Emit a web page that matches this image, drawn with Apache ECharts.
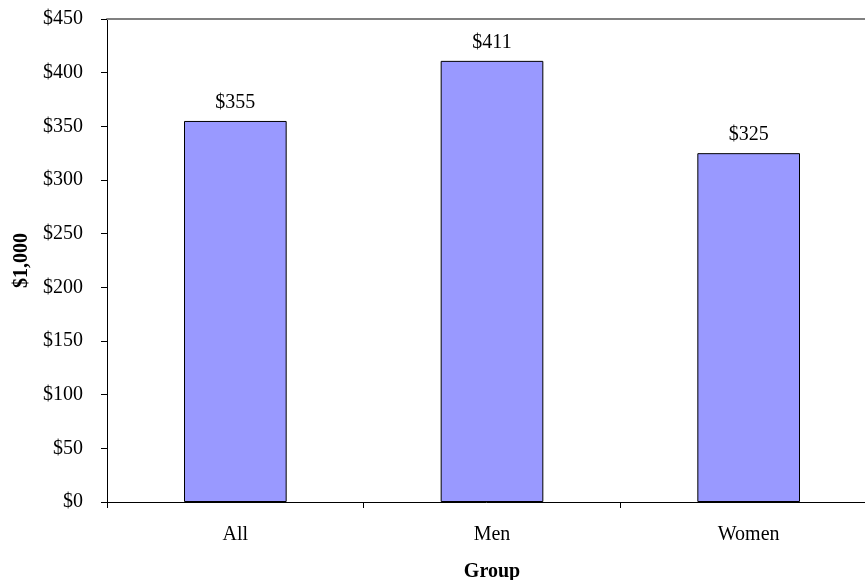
<!DOCTYPE html>
<html>
<head>
<meta charset="utf-8">
<script src="https://cdn.jsdelivr.net/npm/echarts@6/dist/echarts.min.js"></script>
<style>
html,body{margin:0;padding:0;background:#fff;}
#chart{width:865px;height:580px;}
</style>
</head>
<body>
<div id="chart"></div>
<script>
const categories = ['All', 'Men', 'Women'];
const values = [355, 411, 325];
const yTitle = '$1,000';
const xTitle = 'Group';

const FONT = "'Liberation Serif', 'Times New Roman', serif";
const chart = echarts.init(document.getElementById('chart'), null, {renderer: 'canvas'});
chart.setOption({
  animation: false,
  backgroundColor: '#ffffff',
  textStyle: {fontFamily: FONT, color: '#000'},
  grid: {left: 107, width: 770, top: 19, height: 483, containLabel: false, outerBoundsMode: 'none'},
  xAxis: [{
    type: 'category',
    data: categories,
    position: 'bottom',
    boundaryGap: true,
    axisLine: {show: true, lineStyle: {color: '#000', width: 1}},
    axisTick: {show: true, length: 6, inside: false, alignWithLabel: false, lineStyle: {color: '#000'}},
    axisLabel: {fontFamily: FONT, fontSize: 20, color: '#000', margin: 23},
    splitLine: {show: false},
    name: xTitle,
    nameLocation: 'middle',
    nameGap: 60,
    nameTextStyle: {fontFamily: FONT, fontSize: 20, fontWeight: 'bold', color: '#000'}
  }, {
    type: 'category',
    data: categories,
    position: 'top',
    axisLine: {show: true, lineStyle: {color: '#808080', width: 2}},
    axisTick: {show: false},
    axisLabel: {show: false},
    splitLine: {show: false}
  }],
  yAxis: {
    type: 'value',
    min: 0,
    max: 450,
    interval: 50,
    axisLine: {show: true, lineStyle: {color: '#000', width: 1}},
    axisTick: {show: true, length: 6, inside: false, lineStyle: {color: '#000'}},
    axisLabel: {fontFamily: FONT, fontSize: 20, color: '#000', margin: 24,
      formatter: v => '$' + v},
    splitLine: {show: false},
    name: yTitle,
    nameLocation: 'middle',
    nameGap: 73,
    nameRotate: 90,
    nameTextStyle: {fontFamily: FONT, fontSize: 20, fontWeight: 'bold', color: '#000'}
  },
  series: [{
    type: 'bar',
    data: values,
    xAxisIndex: 0,
    barWidth: '40%',
    itemStyle: {color: '#9999FF', borderColor: '#000', borderWidth: 1},
    label: {show: true, position: 'top', distance: 8, fontFamily: FONT, fontSize: 20, color: '#000',
      formatter: p => '$' + p.value}
  }]
});
</script>
</body>
</html>
